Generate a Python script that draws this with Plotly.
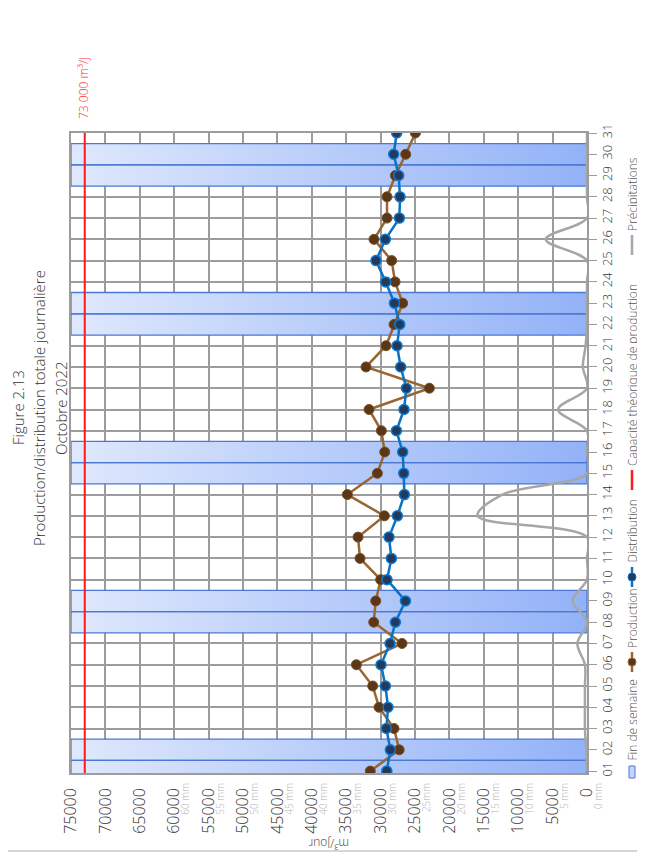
import plotly.graph_objects as go

# ---------------- data ----------------
DAYS = list(range(1, 32))
DAY_LABELS = [f"{d:02d}" for d in DAYS]
PRODUCTION = [31500, 27300, 28050, 30230, 31150, 33520, 26890, 31000, 30710, 29990,
              32990, 33280, 29450, 34830, 30470, 29400, 29890, 31680, 22910, 32120,
              29210, 28050, 26790, 27900, 28390, 30960, 29070, 29070, 27850, 26350, 24940]
DISTRIBUTION = [29100, 28580, 29160, 28920, 29300, 29940, 28630, 27850, 26390, 29070,
                28430, 28780, 27560, 26550, 26640, 26790, 27700, 26600, 26250, 27080,
                27610, 27220, 27990, 29260, 30670, 29300, 27270, 27180, 27370, 28100, 27660]
PRECIP_MM = [0, 0.1, 0.3, 0.3, 0.3, 0.3, 1.4, 0, 2.1, 0,
             0, 0, 15.9, 12.3, 0, 0, 0, 4.2, 0, 0.6,
             0.2, 0, 0, 0, 0, 6.0, 0, 0, 0, 0, 0]
WEEKEND_DAYS = [1, 2, 8, 9, 15, 16, 22, 23, 29, 30]
CAPACITY = 73000
CAPACITY_LABEL = "73 000 m³/J"
VALUE_TICKS = list(range(0, 75001, 5000))
VALUE_LABELS = [str(v) for v in VALUE_TICKS]
MM_TICKS = list(range(0, 61, 5))
MM_LABELS = ["0 mm", "5 mm", "10 mm", "15 mm", "20 mm", "25mm", "30 mm", "35 mm",
             "40 mm", "45 mm", "50 mm", "55 mm", "60 mm"]
TITLE_LINES = ["Figure 2.13", "Production/distribution totale journalière", "Octobre 2022"]
AXIS_TITLE = "m³/Jour"
LEGEND_LABELS = ["Fin de semaine", "Production", "Distribution",
                 "Capacité théorique de production", "Précipitations"]

# ---------------- layout geometry ----------------
OFF = 8                      # page body margin of the browser
W, H = 645 - OFF, 857 - OFF
L, R, T, B = 71 - OFF, 58, 133 - OFF, 84
PW, PH = W - L - R, H - T - B
X_MAX = 75000
Y_RANGE = [0.91, 31]

FONT = "Open Sans"
C_PROD_LINE, C_PROD_MK = "#9a6530", "#5a3716"
C_DIST_LINE, C_DIST_MK = "#0a72c4", "#233a5c"
C_GRID = "#9c9c9c"
C_PRECIP = "#a6a6a6"
C_BAND_EDGE = "#4a78d4"


def px(x):
    """screen x (window pixels) -> paper x"""
    return (x - OFF - L) / PW


def py(y):
    """screen y (window pixels) -> paper y"""
    return (H - B - (y - OFF)) / PH


fig = go.Figure()

# weekend bands (one bar of width one day per weekend day)
bx, by = [], []
for d in WEEKEND_DAYS:
    bx += [0, X_MAX, X_MAX, 0, 0, None]
    by += [d - 0.5, d - 0.5, d + 0.5, d + 0.5, d - 0.5, None]
fig.add_trace(go.Scatter(
    x=bx, y=by, mode="lines", fill="toself",
    fillgradient=dict(type="horizontal", colorscale=[[0, "#dfe8fd"], [1, "#93b2f7"]]),
    line=dict(color=C_BAND_EDGE, width=1.3), hoverinfo="skip", showlegend=False))

# precipitation (secondary mm axis)
fig.add_trace(go.Scatter(
    x=PRECIP_MM, y=DAYS, xaxis="x2", yaxis="y", mode="lines",
    line=dict(color=C_PRECIP, width=2.5, shape="spline", smoothing=1.0),
    hoverinfo="skip", showlegend=False))

# production
fig.add_trace(go.Scatter(
    x=PRODUCTION, y=DAYS, mode="lines+markers",
    line=dict(color=C_PROD_LINE, width=2.5),
    marker=dict(color=C_PROD_MK, size=10, line=dict(color="#7a4f25", width=1)),
    showlegend=False))

# distribution
fig.add_trace(go.Scatter(
    x=DISTRIBUTION, y=DAYS, mode="lines+markers",
    line=dict(color=C_DIST_LINE, width=2.5),
    marker=dict(color=C_DIST_MK, size=10, line=dict(color="#0a7ad4", width=1.5)),
    showlegend=False))

shapes = [
    dict(type="line", xref="x", yref="paper", x0=CAPACITY, x1=CAPACITY, y0=0, y1=1,
         line=dict(color="#ff1a1a", width=2)),
    dict(type="line", xref="paper", yref="paper", x0=px(0), x1=px(645), y0=py(851), y1=py(851),
         line=dict(color="#c8c8c8", width=1.5)),
]

annotations = []
for txt, xc in zip(TITLE_LINES, [18, 39, 61]):
    annotations.append(dict(text=txt, x=px(xc), y=py(408), xref="paper", yref="paper",
                            textangle=-90, showarrow=False, xanchor="center", yanchor="middle",
                            font=dict(family=FONT, size=15, color="#333333", weight=300)))
annotations += [
    dict(text=CAPACITY_LABEL, x=px(83), y=py(88), xref="paper", yref="paper",
         textangle=-90, showarrow=False, xanchor="center", yanchor="middle",
         font=dict(family=FONT, size=12, color="#ff3030", weight=300)),
    dict(text=AXIS_TITLE, x=px(329), y=py(844), xref="paper", yref="paper",
         textangle=180, showarrow=False, xanchor="center", yanchor="middle",
         font=dict(family=FONT, size=12, color="#404040", weight=300)),
]

# rotated legend
LEG_X = 632
LEG_SYMBOL_Y = [772, 662, 577, 480, 245]
LEG_TEXT_BOTTOM = [763, 650, 565, 468, 233]
leg_font = dict(family=FONT, size=12, color="#555555", weight=300)
for lab, yb in zip(LEGEND_LABELS, LEG_TEXT_BOTTOM):
    annotations.append(dict(text=lab, x=px(LEG_X), y=py(yb), xref="paper", yref="paper",
                            textangle=-90, showarrow=False, xanchor="center", yanchor="bottom",
                            font=leg_font))
ys = LEG_SYMBOL_Y
shapes.append(dict(type="rect", xref="paper", yref="paper", x0=px(LEG_X - 3), x1=px(LEG_X + 3),
                   y0=py(ys[0] - 6), y1=py(ys[0] + 6), fillcolor="#c4d4fb",
                   line=dict(color=C_BAND_EDGE, width=1)))
for yc, lc, mc in [(ys[1], C_PROD_LINE, C_PROD_MK), (ys[2], C_DIST_LINE, C_DIST_MK)]:
    shapes.append(dict(type="line", xref="paper", yref="paper", x0=px(LEG_X), x1=px(LEG_X),
                       y0=py(yc - 10), y1=py(yc + 10), line=dict(color=lc, width=2.5)))
    shapes.append(dict(type="circle", xref="paper", yref="paper", x0=px(LEG_X - 4), x1=px(LEG_X + 4),
                       y0=py(yc - 4), y1=py(yc + 4), fillcolor=mc, line=dict(color=lc, width=1)))
for yc, lc in [(ys[3], "#ff1a1a"), (ys[4], C_PRECIP)]:
    shapes.append(dict(type="line", xref="paper", yref="paper", x0=px(LEG_X), x1=px(LEG_X),
                       y0=py(yc - 10), y1=py(yc + 10), line=dict(color=lc, width=2.5)))

fig.update_layout(
    width=W, height=H, autosize=False, margin=dict(l=L, r=R, t=T, b=B),
    paper_bgcolor="white", plot_bgcolor="white", showlegend=False,
    font=dict(family=FONT, color="#404040", weight=300),
    xaxis=dict(range=[X_MAX, 0], tickvals=VALUE_TICKS, ticktext=VALUE_LABELS, tickangle=-90,
               tickfont=dict(size=16, color="#333333"), showgrid=True, gridcolor=C_GRID, gridwidth=1.5,
               zeroline=False, showline=True, linecolor=C_GRID, linewidth=1.5, mirror=True,
               ticks="", ticklabelstandoff=7),
    xaxis2=dict(overlaying="x", side="bottom", anchor="y", range=[X_MAX / 1000, 0],
                tickvals=MM_TICKS, ticktext=MM_LABELS, tickangle=-90,
                tickfont=dict(size=10, color="#b4b4b4"), showgrid=False, zeroline=False,
                ticks="", ticklabelshift=-12, ticklabelstandoff=7),
    yaxis=dict(range=Y_RANGE, side="right", tickvals=DAYS, ticktext=DAY_LABELS, tickangle=-90,
               ticks="outside", ticklen=8, tickcolor=C_GRID, tickfont=dict(size=13, color="#333333"),
               showgrid=True, gridcolor=C_GRID, gridwidth=1.5, zeroline=False,
               showline=True, linecolor=C_GRID, linewidth=1.5, mirror=True),
    shapes=shapes, annotations=annotations,
)

fig.write_html("out.html")
